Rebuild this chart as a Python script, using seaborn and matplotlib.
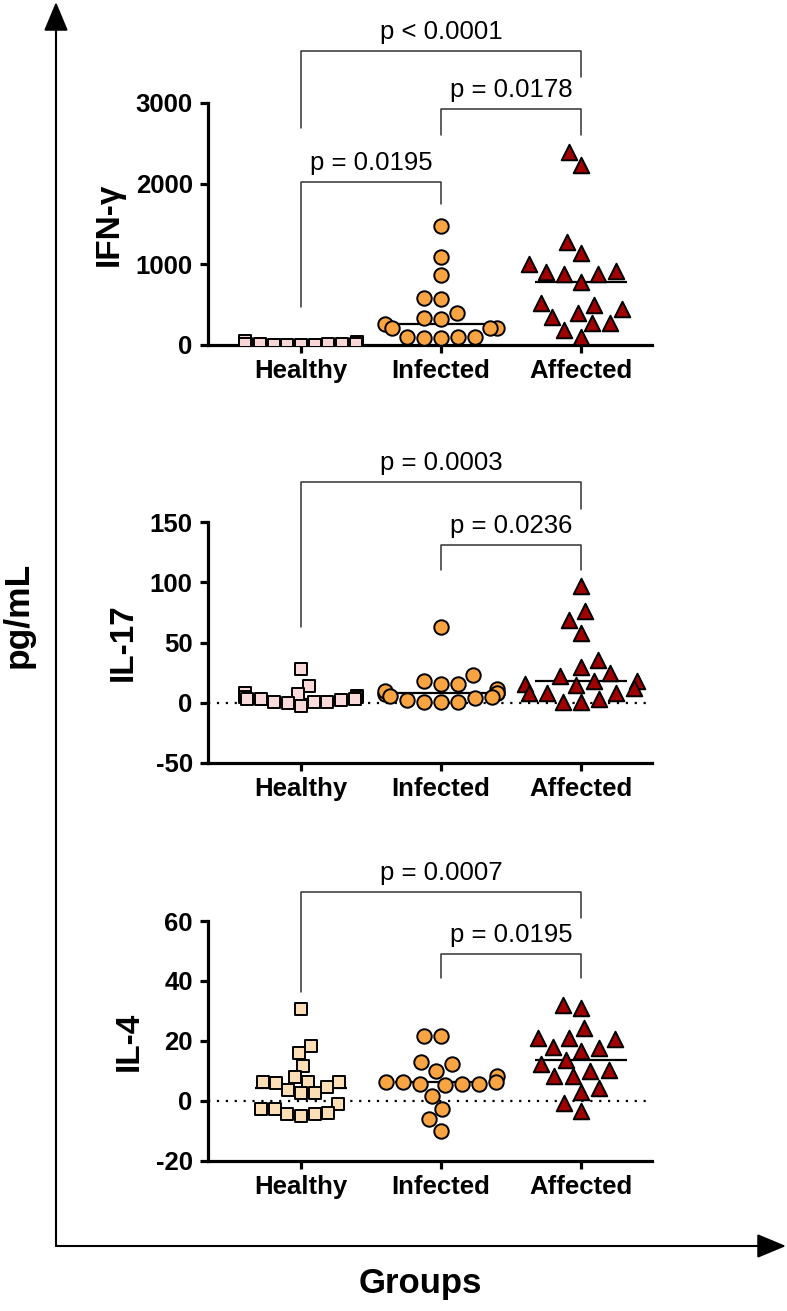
import numpy as np
import pandas as pd
import matplotlib
matplotlib.use('Agg')
import matplotlib.pyplot as plt
import seaborn as sns
from matplotlib.patches import FancyArrowPatch, ArrowStyle

# ---------------- data ----------------
groups = ['Healthy', 'Infected', 'Affected']

ifn_healthy = [10, 25, 5, 15, 8, 30, 12, 3, 20, 6, 45, 18, 9, 35, 4, 14]
ifn_infected = [1479, 1095, 868, 579, 566, 393, 260, 215, 215, 318, 207, 339,
                95, 103, 83, 91, 103]
ifn_affected = [2397, 2231, 1281, 1145, 876, 909, 921, 1000, 876, 785, 401, 496,
                442, 525, 277, 268, 351, 186, 95]

il17_healthy = [28, 13.5, 7.5, 6, 8, 4.5, 3, 1, 3, -3, 1, 0, 1, 2, 5, 3]
il17_infected = [63, 23, 15.5, 15.5, 18, 8, 7, 9.5, 11, 8, 2, 0.5, 1, 4.5, 1, 4, 6]
il17_affected = [96.5, 76, 69, 58, 35.7, 30, 24.6, 22, 17.7, 15, 18, 15.5, 12,
                 8.5, 8.5, 8.5, 3, 1, 1]

il4_healthy = [30.7, 18.3, 15.9, 11.7, 8.1, 6.4, 6.4, 6.4, 6.1, 4.8, 3.7, 2.6, 2.6,
               -1.1, -2.7, -2.7, -4.4, -4.3, -5, -4.1]
il4_infected = [21.7, 21.7, 10, 12.2, 12.9, 8.4, 6.4, 5.6, 5.6, 5.3, 6.2, 5.6, 6.4,
                1.7, -2.7, -6.1, -9.9]
il4_affected = [30.9, 32, 20.7, 21.1, 20.9, 24.2, 16.7, 17.9, 17.6, 12.3, 13.7,
                10.3, 10.1, 8.3, 8.4, 3.1, 4.4, -0.8, -3.2]

panel_labels = ['IFN-γ', 'IL-17', 'IL-4']
ifn_ticks = [0, 1000, 2000, 3000]
il17_ticks = [-50, 0, 50, 100, 150]
il4_ticks = [-20, 0, 20, 40, 60]

ifn_pvals = ['p < 0.0001', 'p = 0.0178', 'p = 0.0195']
il17_pvals = ['p = 0.0003', 'p = 0.0236']
il4_pvals = ['p = 0.0007', 'p = 0.0195']

# ---------------- style ----------------
sns.set_style('white')
plt.rcParams['font.family'] = ['Liberation Sans', 'DejaVu Sans']
plt.rcParams['axes.unicode_minus'] = False
plt.rcParams['text.color'] = 'black'
plt.rcParams['axes.labelcolor'] = 'black'
plt.rcParams['xtick.color'] = 'black'
plt.rcParams['ytick.color'] = 'black'

W, H = 787, 1311
fig = plt.figure(figsize=(W / 100, H / 100), dpi=100)


def add_axes_px(left, top, right, bottom):
    return fig.add_axes([left / W, 1 - bottom / H, (right - left) / W, (bottom - top) / H])


markers = ['s', 'o', '^']
sizes = [8.0, 10.4, 11.2]
col_inf = '#F9A443'
col_aff = '#A00000'

panels = [
    dict(label=panel_labels[0], data=[ifn_healthy, ifn_infected, ifn_affected],
         ticks=ifn_ticks, ylim=(0, 3000), box=(208, 103, 652, 345),
         colors=['#F8D6D6', col_inf, col_aff], zero=False,
         brackets=[(0, 2, 3645, 2690, 3322, ifn_pvals[0]),
                   (1, 2, 2926, 2603, 2603, ifn_pvals[1]),
                   (0, 1, 2021, 471, 1748, ifn_pvals[2])]),
    dict(label=panel_labels[1], data=[il17_healthy, il17_infected, il17_affected],
         ticks=il17_ticks, ylim=(-50, 150), box=(208, 522, 652, 763),
         colors=['#F9DADA', col_inf, col_aff], zero=True,
         brackets=[(0, 2, 183, 62.7, 160.6, il17_pvals[0]),
                   (1, 2, 130.7, 110, 110, il17_pvals[1])]),
    dict(label=panel_labels[2], data=[il4_healthy, il4_infected, il4_affected],
         ticks=il4_ticks, ylim=(-20, 60), box=(208, 921, 652, 1161),
         colors=['#FBDDB6', col_inf, col_aff], zero=True,
         brackets=[(0, 2, 69.7, 36.3, 61, il4_pvals[0]),
                   (1, 2, 49, 41, 41, il4_pvals[1])]),
]

xlim = (-0.664, 2.507)

for p in panels:
    ax = add_axes_px(*p['box'])
    if p['zero']:
        ax.axhline(0, color='black', lw=1.6, ls=(0, (1, 3)), zorder=0.5)
    for i, g in enumerate(groups):
        df = pd.DataFrame({'group': g, 'value': p['data'][i]})
        sns.swarmplot(data=df, x='group', y='value', order=groups, ax=ax,
                      marker=markers[i], color=p['colors'][i], edgecolor='black',
                      linewidth=1.4, size=sizes[i], warn_thresh=1.0, zorder=3)
        med = np.median(p['data'][i])
        ax.hlines(med, i - 0.33, i + 0.33, color='black', lw=1.6, zorder=2)
    ax.set_xlim(*xlim)
    ax.set_ylim(*p['ylim'])
    ax.set_yticks(p['ticks'])
    ax.set_xlabel('')
    ax.set_ylabel(p['label'], fontsize=24, fontweight='bold', labelpad=8)
    for s in ['top', 'right']:
        ax.spines[s].set_visible(False)
    for s in ['left', 'bottom']:
        ax.spines[s].set_linewidth(2.3)
        ax.spines[s].set_color('black')
    ax.tick_params(axis='both', which='major', length=6, width=2.3, color='black',
                   labelcolor='black', labelsize=18.5, left=True, bottom=True)
    ax.tick_params(axis='y', pad=5)
    ax.tick_params(axis='x', pad=4)
    for t in ax.get_xticklabels() + ax.get_yticklabels():
        t.set_fontweight('bold')
    for (x1, x2, top, b1, b2, txt) in p['brackets']:
        ax.plot([x1, x1, x2, x2], [b1, top, top, b2], color='#333333', lw=1.1,
                clip_on=False, zorder=4)
        ax.annotate(txt, xy=((x1 + x2) / 2, top), xytext=(0, 5),
                    textcoords='offset points', ha='center', va='bottom',
                    fontsize=18.5, color='black', annotation_clip=False)

# ---------------- big outer arrows ----------------
ox, oy = 56 / W, 1 - 1246 / H
style = ArrowStyle('-|>', head_length=18, head_width=7.5)
for end in [(ox, 1 - 2 / H), (786 / W, oy)]:
    arr = FancyArrowPatch((ox, oy), end, transform=fig.transFigure,
                          arrowstyle=style, mutation_scale=1, lw=1.5,
                          color='black', shrinkA=0, shrinkB=0)
    fig.add_artist(arr)

fig.text(18 / W, 1 - 615 / H, 'pg/mL', rotation=90, ha='center', va='center',
         fontsize=25.5, fontweight='bold', color='black')
fig.text(420 / W, 1 - 1284 / H, 'Groups', ha='center', va='center',
         fontsize=25, fontweight='bold', color='black')

fig.savefig('out.png', dpi=100)
